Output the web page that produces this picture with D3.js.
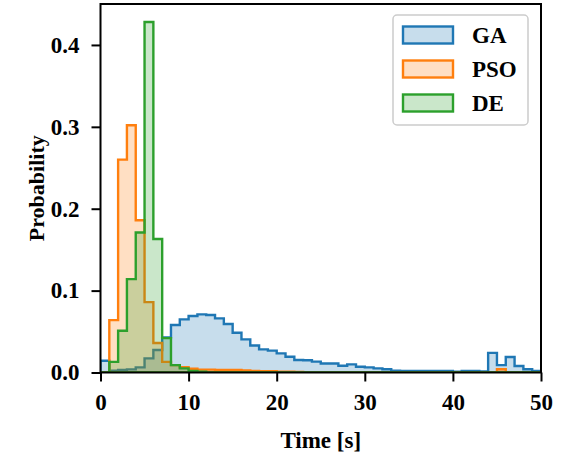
<!DOCTYPE html>
<html>
<head>
<meta charset="utf-8">
<script src="https://cdn.jsdelivr.net/npm/d3@7"></script>
<style>
  html, body { margin: 0; padding: 0; background: #fff; }
  svg { display: block; }
  text { font-family: "Liberation Serif", "Times New Roman", "DejaVu Serif", serif; font-weight: bold; }
</style>
</head>
<body>
<svg id="chart" width="561" height="452"></svg>
<script>
// ---- data ----
const binEdges = d3.range(0, 51, 1); // histogram bin edges (seconds)
const seriesNames = ["GA", "PSO", "DE"];
const seriesColors = ["#1f77b4", "#ff7f0e", "#2ca02c"];
const gaValues = [0.0144, 0.0023, 0.0031, 0.0038, 0.0063, 0.0173, 0.0274, 0.0429, 0.0580, 0.0649,
                  0.0690, 0.0710, 0.0702, 0.0661, 0.0592, 0.0486, 0.0405, 0.0330, 0.0283, 0.0267,
                  0.0234, 0.0193, 0.0153, 0.0150, 0.0133, 0.0110, 0.0110, 0.0083, 0.0099, 0.0070,
                  0.0063, 0.0050, 0.0040, 0.0023, 0.0020, 0.0020, 0.0020, 0.0020, 0.0020, 0.0020,
                  0.0011, 0.0018, 0.0018, 0.0012, 0.0240, 0.0090, 0.0190, 0.0080, 0.0040, 0.0018];
const psoValues = [0, 0.064, 0.260, 0.302, 0.186, 0.086, 0.036, 0.013, 0.009, 0.0065,
                   0.0045, 0.0035, 0.0035, 0.003, 0.003, 0.003, 0.0025, 0.002, 0.0015, 0.0015,
                   0.001, 0.001, 0.0008, 0, 0, 0, 0, 0, 0, 0,
                   0, 0, 0, 0, 0, 0, 0, 0, 0, 0,
                   0, 0, 0, 0, 0, 0.004, 0, 0, 0, 0];
const deValues = [0, 0.013, 0.051, 0.114, 0.171, 0.428, 0.163, 0.042, 0.009, 0.005,
                  0.002, 0.001, 0, 0, 0, 0, 0, 0, 0, 0,
                  0, 0, 0, 0, 0, 0, 0, 0, 0, 0,
                  0, 0, 0, 0, 0, 0, 0, 0, 0, 0,
                  0, 0, 0, 0, 0, 0, 0, 0, 0, 0];
const xTicks = [0, 10, 20, 30, 40, 50];
const yTicks = [0.0, 0.1, 0.2, 0.3, 0.4];
const xLabel = "Time [s]";
const yLabel = "Probability";

// ---- layout ----
const svg = d3.select("#chart");
const pL = 100.5, pR = 541, pT = 4, pB = 372.5;
const x = d3.scaleLinear().domain([0, 50]).range([pL, pR]);
const y = d3.scaleLinear().domain([0, 0.45]).range([pB, pT]);

const seriesValues = [gaValues, psoValues, deValues];

svg.append("defs").append("clipPath").attr("id", "clip")
  .append("rect").attr("x", pL).attr("y", pT).attr("width", pR - pL).attr("height", pB - pT);

const plot = svg.append("g").attr("clip-path", "url(#clip)");

function stepPoints(vals) {
  const pts = [[binEdges[0], 0]];
  vals.forEach((v, i) => {
    pts.push([binEdges[i], v]);
    pts.push([binEdges[i + 1], v]);
  });
  pts.push([binEdges[binEdges.length - 1], 0]);
  return pts;
}
const line = d3.line().x(d => x(d[0])).y(d => y(d[1]));

seriesValues.forEach((vals, i) => {
  plot.append("path")
    .attr("d", line(stepPoints(vals)) + "Z")
    .attr("fill", seriesColors[i])
    .attr("fill-opacity", 0.25)
    .attr("stroke", seriesColors[i])
    .attr("stroke-width", 2.4)
    .attr("stroke-linejoin", "miter");
});

// ---- axes ----
const xAxis = d3.axisBottom(x).tickValues(xTicks).tickFormat(d3.format("d"))
  .tickSizeInner(9).tickSizeOuter(0).tickPadding(12);
const yAxis = d3.axisLeft(y).tickValues(yTicks).tickFormat(d3.format(".1f"))
  .tickSizeInner(9).tickSizeOuter(0).tickPadding(12);

const gx = svg.append("g").attr("transform", `translate(0,${pB})`).call(xAxis);
const gy = svg.append("g").attr("transform", `translate(${pL},0)`).call(yAxis);
[gx, gy].forEach(g => {
  g.select(".domain").remove();
  g.selectAll(".tick line").attr("stroke", "#000").attr("stroke-width", 2);
  g.selectAll(".tick text").attr("fill", "#000")
    .style("font-family", '"Liberation Serif", "Times New Roman", serif')
    .style("font-weight", "bold").style("font-size", "23px");
});

// frame
svg.append("rect").attr("x", pL).attr("y", pT).attr("width", pR - pL).attr("height", pB - pT)
  .attr("fill", "none").attr("stroke", "#000").attr("stroke-width", 2);

// axis labels
svg.append("text").attr("x", (pL + pR) / 2).attr("y", 448)
  .attr("text-anchor", "middle").style("font-size", "23px").text(xLabel);
svg.append("text").attr("transform", `translate(44,${(pT + pB) / 2}) rotate(-90)`)
  .attr("text-anchor", "middle").style("font-size", "22px").text(yLabel);

// legend
const lg = svg.append("g");
lg.append("rect").attr("x", 393).attr("y", 15).attr("width", 135).attr("height", 110).attr("rx", 4)
  .attr("fill", "#fff").attr("fill-opacity", 0.8).attr("stroke", "#cccccc").attr("stroke-width", 1.5);
seriesNames.forEach((name, i) => {
  const cy = 35 + i * 34;
  lg.append("rect").attr("x", 403).attr("y", cy - 8.5).attr("width", 50).attr("height", 17)
    .attr("fill", seriesColors[i]).attr("fill-opacity", 0.25)
    .attr("stroke", seriesColors[i]).attr("stroke-width", 2.4);
  lg.append("text").attr("x", 472).attr("y", cy).attr("dy", "0.35em")
    .style("font-size", "23px").text(name);
});
</script>
</body>
</html>
